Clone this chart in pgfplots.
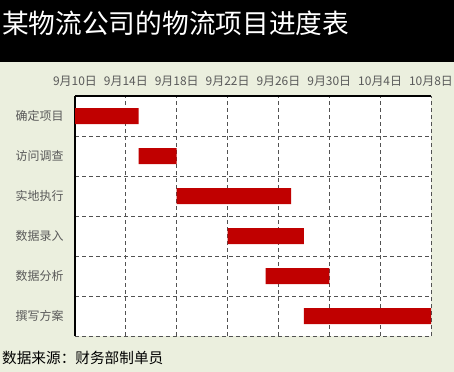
\documentclass[border=0pt]{standalone}
\usepackage{fontspec}
\setmainfont{Noto Sans CJK SC}
\usepackage{pgfplots}
\pgfplotsset{compat=1.18}
\definecolor{bgc}{RGB}{235,239,222}
\definecolor{barred}{RGB}{192,0,0}
\definecolor{lblgray}{RGB}{89,89,89}
\begin{document}
\begin{tikzpicture}
\useasboundingbox (0,0) rectangle (454bp,372bp);
\fill[bgc] (0,0) rectangle (454bp,372bp);
\fill[black] (0,310bp) rectangle (454bp,372bp);
\node[anchor=west, text=white, inner sep=0pt, font=\fontsize{26.8}{30}\selectfont] at (2bp,349bp) {某物流公司的物流项目进度表};
\node[anchor=west, text=black, inner sep=0pt, font=\fontsize{14.7}{17}\selectfont] at (2bp,14bp) {数据来源：财务部制单员};
\begin{axis}[
  at={(75bp,36bp)}, anchor=south west,
  scale only axis, width=356bp, height=240bp,
  axis background/.style={fill=white},
  xbar stacked, bar width=16bp,
  xmin=0, xmax=28, ymin=-0.5, ymax=5.5,
  axis x line*=top, axis y line*=left,
  axis line style={line width=1.6bp, black},
  xtick={0,4,...,28},
  xticklabels={9月10日,9月14日,9月18日,9月22日,9月26日,9月30日,10月4日,10月8日},
  ytick={0,1,2,3,4,5},
  yticklabels={撰写方案,数据分析,数据录入,实地执行,访问调查,确定项目},
  minor ytick={-0.5,0.5,1.5,2.5,3.5,4.5},
  major tick length=0pt, minor tick length=0pt,
  xmajorgrids, yminorgrids,
  grid style={black!68, line width=0.9bp, dash pattern=on 4bp off 3bp},
  minor grid style={black!68, line width=0.9bp, dash pattern=on 4bp off 3bp},
  tick label style={text=lblgray, font=\fontsize{12}{14}\selectfont},
  xticklabel style={yshift=6bp},
  yticklabel style={xshift=-8bp},
  clip=false,
]
\addplot[draw=none, fill=none] coordinates {(18,0) (15,1) (12,2) (8,3) (5,4) (0,5)};
\addplot[draw=none, fill=barred] coordinates {(10,0) (5,1) (6,2) (9,3) (3,4) (5,5)};
\end{axis}
\end{tikzpicture}
\end{document}
